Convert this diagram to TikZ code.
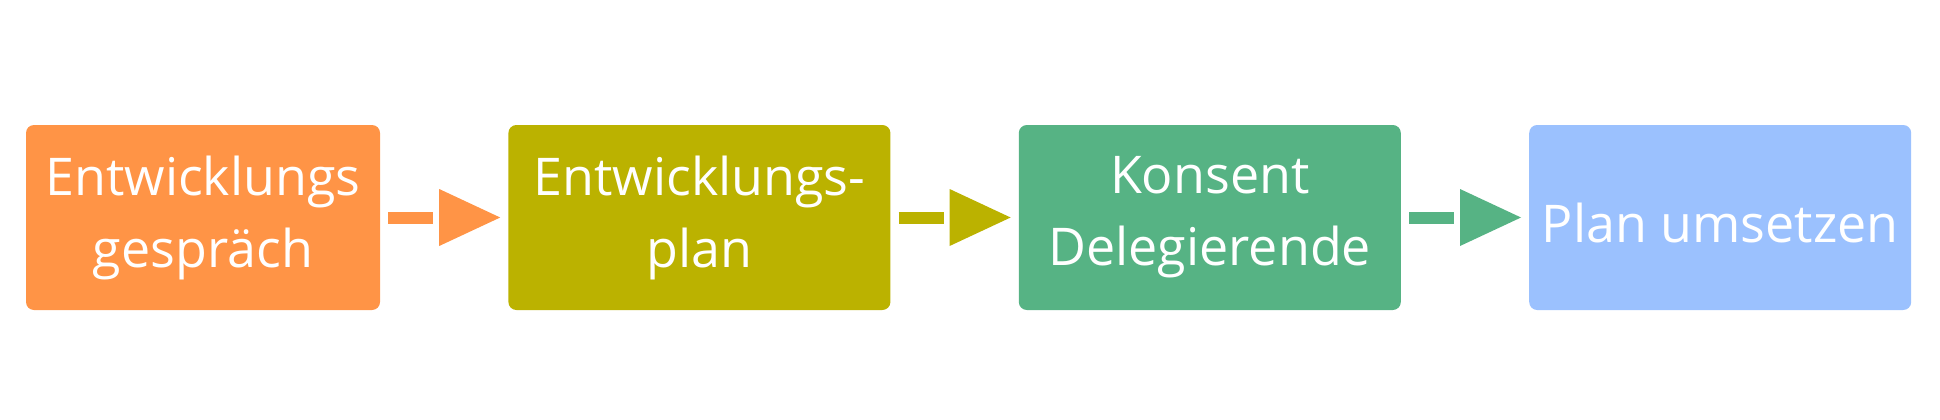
\documentclass[tikz,border=0pt]{standalone}
\usepackage{fontspec}
\setmainfont{Open Sans}
\usepackage{xcolor}
\usepackage{tikz}
\usetikzlibrary{arrows.meta, positioning}
\definecolor{StepOrange}{HTML}{FF9446}
\definecolor{StepOlive}{HTML}{BBB200}
\definecolor{StepGreen}{HTML}{56B384}
\definecolor{StepBlue}{HTML}{9BC1FE}

\begin{document}
\begin{tikzpicture}[
    stepbox/.style={fill=#1, rounded corners=8pt, minimum width=382pt, minimum height=185pt,
      inner sep=0pt, text=white, align=center, font=\fontsize{52}{72}\selectfont,
      execute at begin node={\rule{0pt}{51.5pt}}},
    conn/.style={draw=#1, line width=12pt, shorten <=8pt, shorten >=8pt, dash pattern=on 45pt off 200pt,
      -{Triangle[length=61pt, width=57pt, line width=0pt, fill=#1]}}]
        \useasboundingbox (0,0) rectangle (1940pt,-420pt);
        \node (talk) [stepbox=StepOrange, minimum width=354pt] at (203pt,-217.5pt) {Entwicklungs\\gespräch};
        \node (plan) [stepbox=StepOlive, right=128pt of talk] {Entwicklungs-\\plan};
        \node (kons) [stepbox=StepGreen, right=128pt of plan] {Konsent\\Delegierende};
        \node (doit) [stepbox=StepBlue, right=128pt of kons] {Plan umsetzen};
        \draw [conn=StepOrange] (talk) -- (plan);
        \draw [conn=StepOlive] (plan) -- (kons);
        \draw [conn=StepGreen] (kons) -- (doit);
      \end{tikzpicture}
\end{document}
